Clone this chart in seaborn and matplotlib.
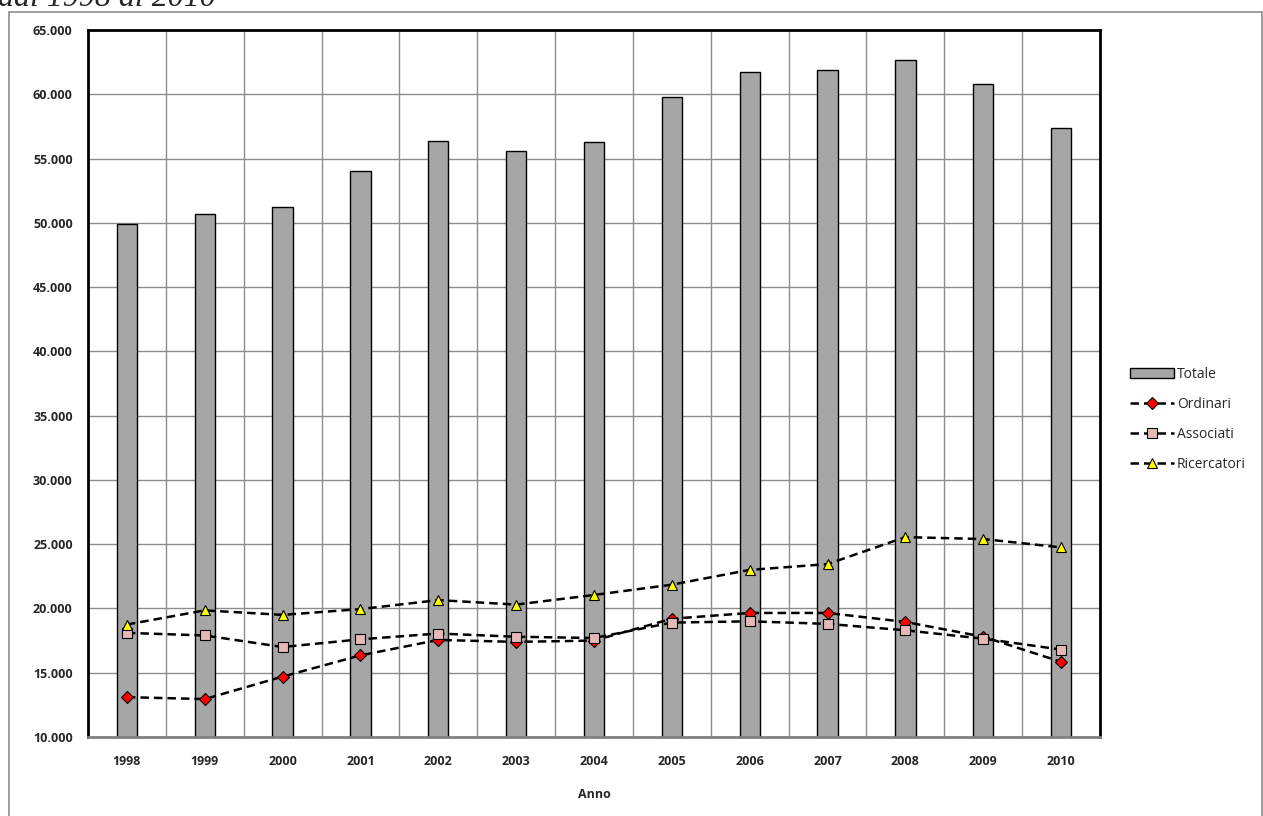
import numpy as np
import matplotlib.pyplot as plt
import matplotlib.ticker as mticker
from matplotlib.patches import Rectangle
import pandas as pd
import seaborn as sns

# dati
anni = ['1998', '1999', '2000', '2001', '2002', '2003', '2004',
        '2005', '2006', '2007', '2008', '2009', '2010']
totale = [49900, 50700, 51200, 54000, 56400, 55600, 56300,
          59800, 61700, 61900, 62700, 60800, 57400]
ordinari = [13100, 12950, 14700, 16350, 17550, 17400, 17500,
            19200, 19650, 19650, 18950, 17800, 15850]
associati = [18100, 17900, 17000, 17600, 18050, 17800, 17700,
             18900, 19000, 18800, 18300, 17650, 16800]
ricercatori = [18750, 19850, 19500, 19950, 20650, 20300, 21050,
               21850, 23000, 23450, 25550, 25400, 24750]

serie = ['Ordinari', 'Associati', 'Ricercatori']
marker_serie = ['D', 's', '^']
colori_serie = ['#FF0000', '#E6B9B8', '#FFFF00']
size_serie = [6.0, 7.5, 7.0]

df_tot = pd.DataFrame({'Anno': anni, 'Totale': totale})
df_lin = pd.DataFrame({
    'Anno': anni * 3,
    'Valore': ordinari + associati + ricercatori,
    'Serie': np.repeat(serie, len(anni)),
})

sns.set_style('white')
plt.rcParams['font.family'] = ['Open Sans', 'DejaVu Sans']

W, H = 1263, 816
fig = plt.figure(figsize=(W / 100, H / 100), dpi=100)
ax = fig.add_axes([88 / W, 1 - 737 / H, (1100 - 88) / W, (737 - 30) / H])

sns.barplot(data=df_tot, x='Anno', y='Totale', color='#A6A6A6', saturation=1,
            edgecolor='black', linewidth=1.0, width=0.26, ax=ax, zorder=2)

sns.pointplot(data=df_lin, x='Anno', y='Valore', hue='Serie', hue_order=serie,
              palette=['black'] * 3, markers=marker_serie, linestyles='--',
              errorbar=None, ax=ax, legend=False)

linee = [l for l in ax.lines if l.get_marker() not in ('None', '', None, ' ')]
for ln, fc, ms in zip(linee, colori_serie, size_serie):
    ln.set_color('black')
    ln.set_markerfacecolor(fc)
    ln.set_markeredgecolor('black')
    ln.set_markeredgewidth(0.8)
    ln.set_markersize(ms)
    ln.set_linewidth(1.8)
    ln.set_dashes((3.4, 2.0))
    ln.set_zorder(4)

ax.set_ylim(10000, 65000)
ax.set_xlim(-0.5, len(anni) - 0.5)
ax.yaxis.set_major_locator(mticker.MultipleLocator(5000))
ax.yaxis.set_major_formatter(
    mticker.FuncFormatter(lambda v, p: f'{int(v):,}'.replace(',', '.')))
ax.set_xticks(np.arange(-0.5, len(anni), 1), minor=True)

ax.set_axisbelow(True)
ax.grid(True, axis='y', which='major', color='#8c8c8c', lw=1.0)
ax.grid(True, axis='x', which='minor', color='#8c8c8c', lw=1.0)
ax.grid(False, axis='x', which='major')

ax.tick_params(axis='both', which='both', length=0)
ax.tick_params(axis='y', pad=11, labelsize=9)
ax.tick_params(axis='x', pad=13, labelsize=9)
for t in ax.get_xticklabels() + ax.get_yticklabels():
    t.set_fontweight('bold')

ax.set_ylabel('')
ax.set_xlabel('Anno', fontsize=9, fontweight='bold', labelpad=14)

for side in ['left', 'top', 'right']:
    ax.spines[side].set_color('black')
    ax.spines[side].set_linewidth(2)
ax.spines['bottom'].set_color('#808080')
ax.spines['bottom'].set_linewidth(2)

handles = [ax.containers[0]] + linee
ax.legend(handles, ['Totale'] + serie, loc='upper left',
          bbox_to_anchor=(1117 / W, 1 - 354 / H), bbox_transform=fig.transFigure,
          frameon=False, fontsize=10, handlelength=3.2, handletextpad=0.2,
          labelspacing=1.1, numpoints=1)

# cornice esterna e titolo tagliato
fig.add_artist(Rectangle((9 / W, -0.02), (1262 - 9) / W, 1 - 12 / H + 0.02,
                         transform=fig.transFigure, fill=False,
                         edgecolor='#8c8c8c', lw=1.2))
fig.text(-2 / W, 1 - 6 / H, 'dal 1998 al 2010', family='Liberation Serif',
         style='italic', fontsize=23, va='baseline', ha='left')

fig.savefig('out.png', dpi=100)
